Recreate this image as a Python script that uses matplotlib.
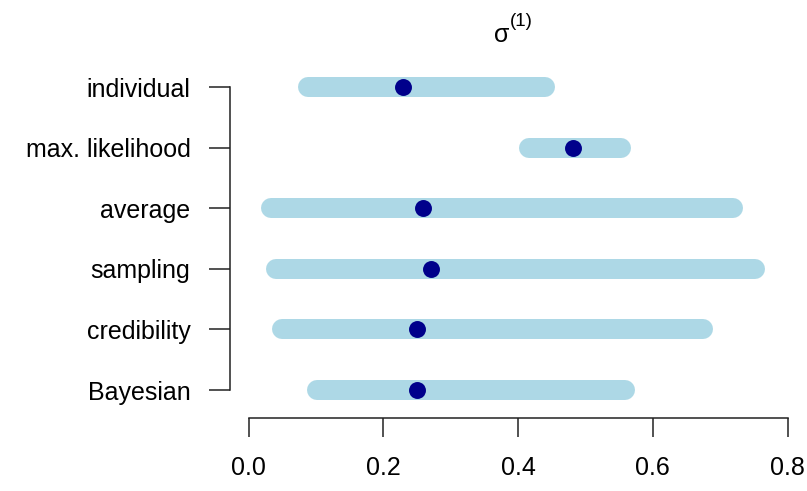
import numpy as np
import matplotlib.pyplot as plt

plt.rcParams['font.family'] = ['Liberation Sans', 'DejaVu Sans']

# interval estimates of sigma^(1), top row first
methods = ['individual', 'max. likelihood', 'average', 'sampling', 'credibility', 'Bayesian']
lower = [0.088, 0.416, 0.034, 0.041, 0.050, 0.101]
upper = [0.440, 0.553, 0.719, 0.752, 0.675, 0.559]
estimate = [0.229, 0.482, 0.259, 0.271, 0.250, 0.250]
xticks = [0.0, 0.2, 0.4, 0.6, 0.8]

W, H = 807, 491
fig = plt.figure(figsize=(W / 100, H / 100), dpi=100)
ax = fig.add_axes([230 / W, (H - 418) / H, 557.5 / W, (418 - 56.7) / H])

ypos = np.arange(len(methods), 0, -1)
for y, lo, hi in zip(ypos, lower, upper):
    ax.plot([lo, hi], [y, y], color='#ADD8E6', lw=14.4,
            solid_capstyle='round', clip_on=False, zorder=2)
ax.plot(estimate, ypos, 'o', color='#00008B', markersize=12.2,
        markeredgewidth=0, clip_on=False, zorder=3)

ax.set_xlim(-0.0275, 0.8)
ax.set_ylim(0.538, 6.5)

for s in ['top', 'right']:
    ax.spines[s].set_visible(False)
ax.spines['left'].set_bounds(1, 6)
ax.spines['bottom'].set_bounds(0, 0.8)
for s in ['left', 'bottom']:
    ax.spines[s].set_linewidth(1.1)
    ax.spines[s].set_color('#222222')

ax.set_xticks(xticks)
ax.set_xticklabels([f'{v:.1f}' for v in xticks])
ax.set_yticks(ypos)
ax.set_yticklabels(methods)
ax.tick_params(axis='x', direction='out', length=14, width=1.1, pad=13.5,
               labelsize=18, color='#222222')
ax.tick_params(axis='y', direction='out', length=15, width=1.1, pad=13.5,
               labelsize=18, color='#222222')

# title: sigma with a raised "(1)"
fig.text(502 / W, 1 - 42 / H, 'σ', ha='center', va='baseline', fontsize=18)
fig.text(510 / W, 1 - 26 / H, '(1)', ha='left', va='baseline', fontsize=13.5)

fig.savefig('out.png', dpi=100)
